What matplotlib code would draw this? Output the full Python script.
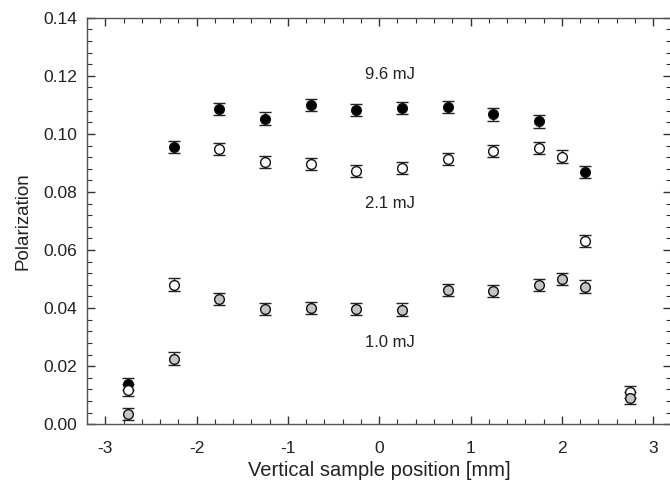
import numpy as np
import matplotlib.pyplot as plt
from matplotlib.ticker import MultipleLocator, FormatStrFormatter

plt.rcParams['font.family'] = ['Liberation Sans', 'DejaVu Sans']
plt.rcParams['axes.unicode_minus'] = False

# positions along the sample [mm]
x_96 = [-2.75, -2.25, -1.75, -1.25, -0.75, -0.25, 0.25, 0.75, 1.25, 1.75, 2.25]
pol_96 = [0.0138, 0.0954, 0.1087, 0.1053, 0.1099, 0.1083, 0.1089, 0.1094, 0.1067, 0.1043, 0.0869]

x_21 = [-2.75, -2.25, -1.75, -1.25, -0.75, -0.25, 0.25, 0.75, 1.25, 1.75, 2.0, 2.25, 2.75]
pol_21 = [0.0118, 0.0481, 0.0949, 0.0902, 0.0895, 0.0873, 0.0882, 0.0914, 0.0942, 0.0951, 0.0922, 0.0632, 0.0110]

x_10 = [-2.75, -2.25, -1.75, -1.25, -0.75, -0.25, 0.25, 0.75, 1.25, 1.75, 2.0, 2.25, 2.75]
pol_10 = [0.0034, 0.0226, 0.0432, 0.0398, 0.0399, 0.0398, 0.0395, 0.0461, 0.0459, 0.0480, 0.0500, 0.0474, 0.0090]

err = 0.0021

fig = plt.figure(figsize=(6.7, 4.82), dpi=100)
ax = fig.add_axes([0.130, 0.120, 0.872, 0.843])

edge = '#111111'
common = dict(fmt='o', ms=7, mec=edge, mew=1.0, ecolor='#222222',
              elinewidth=1.0, capsize=4.4, capthick=1.0, yerr=err, zorder=3)
# black first, white over it, grey on top (as in the overlapping end points)
ax.errorbar(x_96, pol_96, mfc='black', **common)
ax.errorbar(x_21, pol_21, mfc='white', **common)
ax.errorbar(x_10, pol_10, mfc='#c4c4c4', **common)

ax.text(0.12, 0.1205, '9.6 mJ', fontsize=12, ha='center', va='center', color='#222222')
ax.text(0.12, 0.0760, '2.1 mJ', fontsize=12, ha='center', va='center', color='#222222')
ax.text(0.12, 0.0283, '1.0 mJ', fontsize=12, ha='center', va='center', color='#222222')

ax.set_xlim(-3.2, 3.2)
ax.set_ylim(0, 0.14)
ax.xaxis.set_major_locator(MultipleLocator(1))
ax.xaxis.set_minor_locator(MultipleLocator(0.2))
ax.yaxis.set_major_locator(MultipleLocator(0.02))
ax.yaxis.set_minor_locator(MultipleLocator(0.004))
ax.yaxis.set_major_formatter(FormatStrFormatter('%.2f'))

for s in ax.spines.values():
    s.set_color('#555555')
    s.set_linewidth(1.0)
ax.tick_params(which='both', direction='in', top=True, right=True,
               color='#333333', labelsize=12.5, labelcolor='#222222')
ax.tick_params(which='major', length=6, width=1.0)
ax.tick_params(which='minor', length=3.5, width=0.8)
ax.tick_params(axis='x', which='major', pad=12)
ax.tick_params(axis='y', which='major', pad=7)

ax.set_xlabel('Vertical sample position [mm]', fontsize=14.5, color='#222222', labelpad=4)
ax.set_ylabel('Polarization', fontsize=13.5, color='#222222', labelpad=9)

fig.savefig('out.png', dpi=100)
